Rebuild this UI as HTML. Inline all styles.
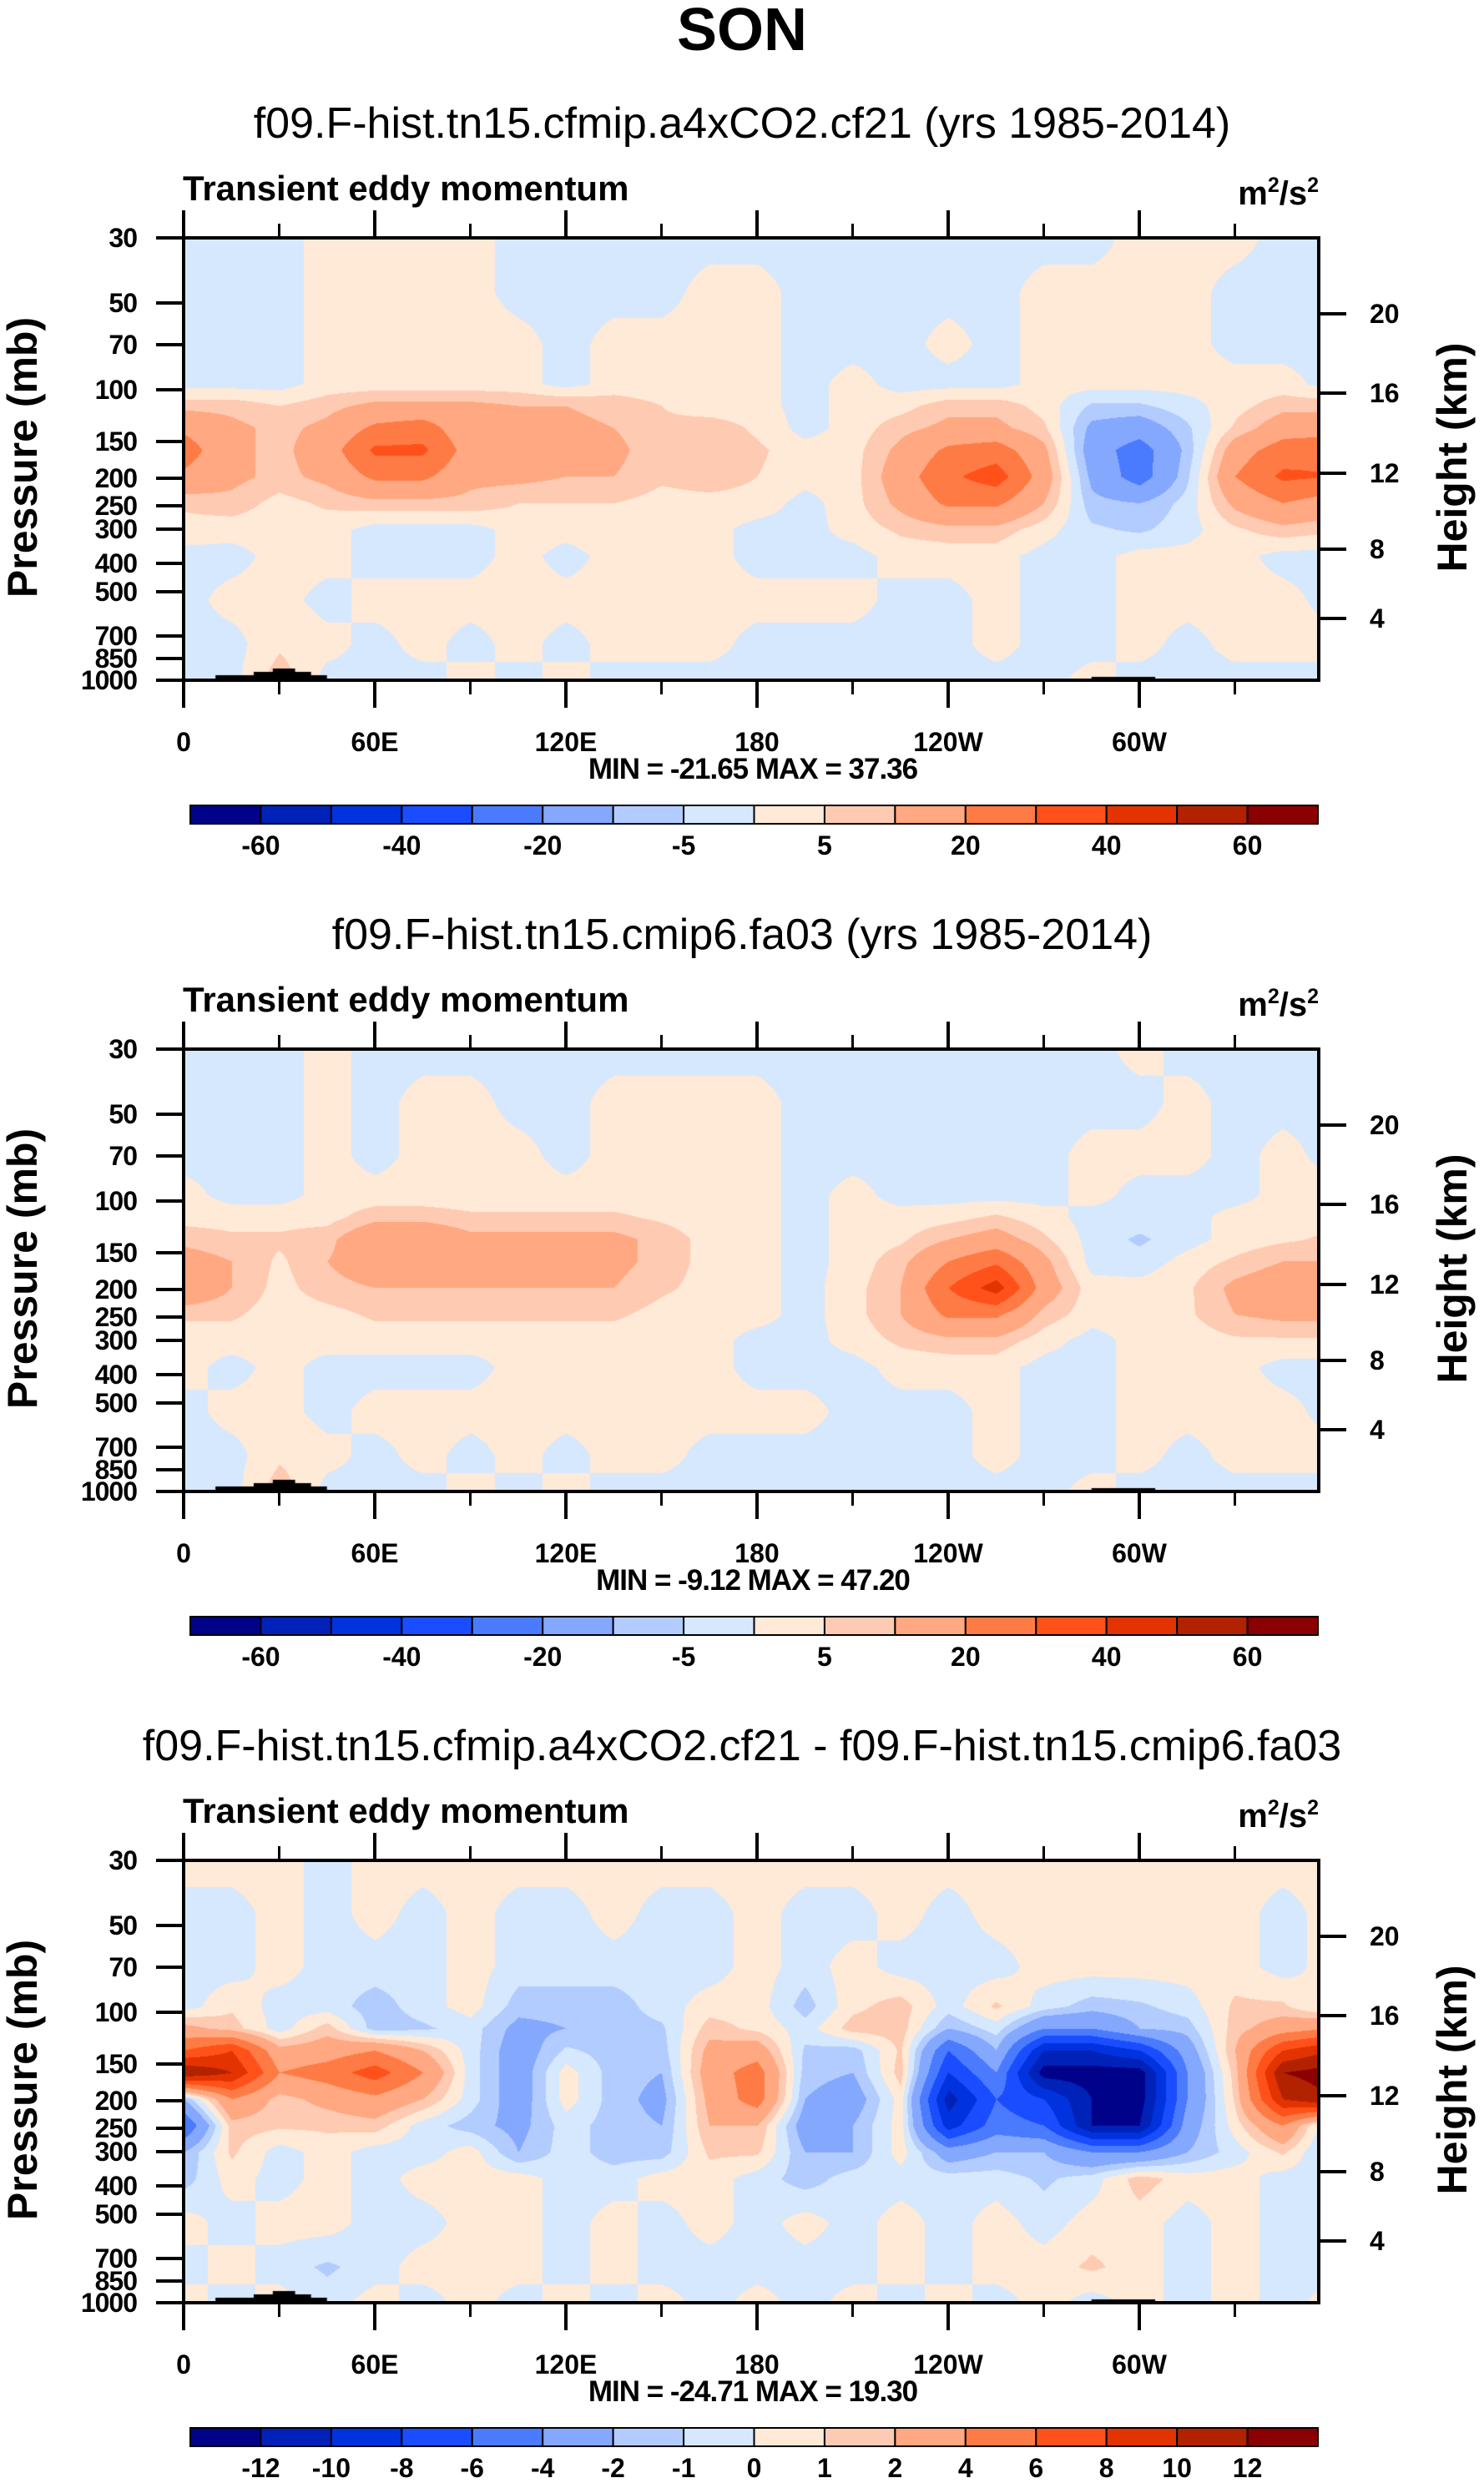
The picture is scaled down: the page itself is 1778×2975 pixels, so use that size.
<!DOCTYPE html>
<html><head><meta charset="utf-8">
<style>
html,body{margin:0;padding:0;background:#fff;}
#root{position:relative;width:1778px;height:2975px;overflow:hidden;background:#fff;font-family:"Liberation Sans",sans-serif;}
canvas{position:absolute;}
svg{position:absolute;left:0;top:0;}
</style></head>
<body>
<div id="root">
<canvas id="c0" width="1360" height="530" style="left:220px;top:285px"></canvas>
<canvas id="c1" width="1360" height="530" style="left:220px;top:1257px"></canvas>
<canvas id="c2" width="1360" height="530" style="left:220px;top:2229px"></canvas>
<svg id="ov" width="1778" height="2975"></svg>
</div>
<script>
// ---- data ----
const lonCols = [0,15,30,45,60,75,90,105,120,135,150,165,180,195,210,225,240,255,270,285,300,315,330,345,360];
const rowFrac = [0,0.12,0.24,0.33,0.38,0.43,0.48,0.54,0.60,0.66,0.72,0.82,0.92,1.0];
const field1 = [
[-2,-2,-2,2,2,2,2,-2,-2,-2,-2,-2,-2,-2,-2,-2,-2,-2,-2,-2,2,2,2,-2,-2],
[-2,-2,-2,2,2,2,2,-2,-2,-2,-2,2,2,-2,-2,-2,-2,-2,2,2,2,2,-2,-2,-2],
[-2,-2,-2,2,2,2,2,2,-2,2,2,2,2,-2,-2,-2,2,-2,2,2,2,2,-2,-2,-2],
[-2,-2,-2,2,2,2,2,2,-2,2,2,2,2,-2,2,-2,-2,-2,2,2,2,2,2,2,-2],
[8,8,5,8,12,12,12,10,10,8,5,2,2,-2,2,3,8,8,3,-6,-6,-2,3,8,8],
[18,12,8,12,22,25,12,12,12,10,6,8,4,-2,2,8,12,12,6,-12,-15,-6,6,15,15],
[25,12,8,15,32,32,15,12,12,12,6,8,6,2,3,12,22,25,12,-15,-25,-8,15,25,28],
[18,12,8,12,22,22,12,12,10,10,6,8,5,2,3,15,28,35,15,-12,-25,-6,20,32,30],
[6,8,3,6,8,8,8,5,5,5,3,3,3,-2,3,12,22,22,10,-8,-10,-3,12,20,15],
[3,2,2,2,-2,-2,-2,2,2,3,2,2,-2,-2,2,6,8,8,2,-4,-6,-2,4,8,6],
[-2,-2,2,2,-2,-2,-2,2,-2,2,2,2,-2,-2,-2,2,2,2,-2,-2,2,2,2,-2,-2],
[-2,2,2,-2,2,2,2,2,2,2,2,2,2,2,2,-2,-2,2,-2,-2,2,2,2,2,-2],
[-2,-2,4,2,-2,2,-2,2,-2,2,2,2,-2,-2,-2,-2,-2,2,-2,-2,2,-2,2,2,2],
[-2,-2,8,-2,-2,-2,2,-2,2,-2,-2,-2,-2,-2,-2,-2,-2,-2,-2,2,-2,-2,-2,-2,-2]];
const field2 = [
[-2,-2,-2,2,-2,-2,-2,-2,-2,-2,-2,-2,-2,-2,-2,-2,-2,-2,-2,-2,2,-2,-2,-2,-2],
[-2,-2,-2,2,-2,2,2,-2,-2,2,2,2,2,-2,-2,-2,-2,-2,-2,-2,-2,2,-2,-2,-2],
[-2,-2,-2,2,-2,2,2,2,-2,2,2,2,2,-2,-2,-2,-2,-2,-2,2,2,2,-2,2,-2],
[2,-2,-2,2,2,2,2,2,2,2,2,2,2,-2,2,-2,-2,-2,-2,2,-2,-2,-2,2,2],
[3,3,3,3,8,8,6,6,6,6,4,2,2,-2,2,2,3,6,2,-2,-2,-2,2,3,3],
[8,6,6,8,18,18,12,12,12,12,8,3,2,-2,2,4,10,14,6,-2,-6,-2,2,4,6],
[14,10,4,10,15,15,10,12,12,12,8,3,2,-2,2,8,20,28,12,-2,-3,2,6,10,10],
[18,10,3,8,10,10,10,10,10,10,6,3,2,-2,3,10,30,45,15,2,2,4,12,16,18],
[6,6,2,3,6,6,6,6,6,6,3,2,2,-2,3,10,22,22,8,2,2,4,10,12,12],
[2,2,2,2,2,2,2,2,2,2,2,2,-2,-2,2,6,8,8,2,-2,2,2,4,4,4],
[2,-2,2,-2,-2,-2,-2,2,2,2,2,2,-2,-2,-2,2,2,2,-2,-2,2,2,2,-2,-2],
[-2,2,2,-2,2,2,2,2,2,2,2,2,2,2,-2,-2,-2,2,-2,-2,2,2,2,2,-2],
[-2,-2,4,2,-2,2,-2,2,-2,2,2,-2,-2,-2,-2,-2,-2,2,-2,-2,2,-2,2,2,2],
[-2,-2,8,-2,-2,-2,2,-2,2,-2,-2,-2,-2,-2,-2,-2,-2,-2,-2,2,-2,-2,-2,-2,-2]];
const field3 = [
[0.5,0.5,0.5,-0.5,0.5,0.5,0.5,0.5,0.5,0.5,0.5,0.5,0.5,0.5,0.5,0.5,0.5,0.5,0.5,0.5,0.5,0.5,0.5,0.5,0.5],
[-0.5,-0.5,0.5,-0.5,0.5,-0.5,0.5,-0.5,-0.5,0.5,-0.5,-0.5,0.5,-0.5,-0.5,0.5,-0.5,0.5,0.5,0.5,0.5,0.5,0.5,-0.5,0.5],
[-0.5,-0.5,0.5,-0.5,-0.5,-0.5,0.5,-0.5,-0.5,-0.5,-0.5,-0.5,0.5,-0.5,0.5,-0.5,-0.5,-0.5,0.5,0.5,0.5,0.5,0.5,-0.5,0.5],
[-0.5,0.8,-0.5,-0.5,-1.5,-0.5,0.5,-1.5,-1.5,-1.5,-0.5,0.5,0.5,-1.5,0.7,1.5,-0.5,1.2,-0.5,-1.5,-1.2,-0.5,1.2,1.2,-0.5],
[2.5,1.5,-0.5,1.5,-1.5,-1.2,-0.5,-2.5,-2,-1.5,-1.2,1.5,0.7,-0.5,1.5,1.5,-2,-0.5,-4,-4,-2,-1.5,1.5,3,4],
[6,8,2.5,3,4,2,-0.5,-3,-0.8,-1.5,-1.5,2.5,3,-1.2,-1.5,1.2,-6,-2,-10,-10,-8,-3,2,8,10],
[12,10,4,5,7,4,-0.5,-3,0.5,-1.5,-2,3,5,-1.5,-2,1.5,-8,-4,-13,-13,-13,-4,1.5,12,13],
[-2,4,1.5,2.5,3.5,2,-0.5,-3,0.5,-1.5,-2.5,2.5,5,-2,-3,0.5,-11,-6,-8,-12,-13,-4,1.2,10,12],
[-6,1.5,1.2,1.2,1.5,-0.5,-1.5,-2.5,-0.5,-1.5,-2,2,2,-3,-2,0.5,-9,-5,-6,-12,-12,-3,0.5,4,-1.5],
[-2,1.2,-0.5,0.5,-0.5,-0.5,0.5,-2,-0.5,-1.5,-1.5,1.2,1.2,-2,-2,0.5,-3,-2,-2,-4,-4,-2,-0.5,1.2,-1.5],
[-1.5,0.5,-0.5,0.5,-0.5,0.5,0.5,0.5,-0.5,-0.5,0.5,0.5,-0.5,-1.5,-0.5,-0.5,-0.5,-0.5,-1.2,-0.5,1.5,0.5,0.5,-0.5,-0.5],
[0.5,-0.5,0.5,0.5,-0.5,-0.5,0.5,0.5,-0.5,0.5,-0.5,0.5,-0.5,0.5,-0.5,0.5,-0.5,0.5,-0.5,0.5,0.5,-0.5,0.5,-0.5,-0.5],
[-0.5,0.5,-0.5,-1.2,-0.5,0.5,0.5,0.5,-0.5,0.5,-0.5,-0.5,-0.5,-0.5,-0.5,0.5,-0.5,0.5,0.5,1.2,0.5,-0.5,0.5,-0.5,-0.5],
[0.5,-0.5,0.5,-0.5,0.5,-0.5,0.5,-0.5,0.5,-0.5,0.5,-0.5,0.5,-0.5,0.5,-0.5,0.5,-0.5,0.5,-0.5,0.5,-0.5,0.5,-0.5,0.5]];
const levelsMain = [-60,-50,-40,-30,-20,-10,-5,0,5,10,20,30,40,50,60];
const levelsDiff = [-12,-10,-8,-6,-4,-2,-1,0,1,2,4,6,8,10,12];
const cbLabelsMain = ["-60","-40","-20","-5","5","20","40","60"];
const cbLabelsDiff = ["-12","-10","-8","-6","-4","-2","-1","0","1","2","4","6","8","10","12"];
const colors = ["#00038a","#0022b8","#0033dd","#1a4dff","#4a7bff","#85a8ff","#b3ccff","#d6e8fd","#ffe9d7","#ffcab2","#ffa882","#ff7b45","#ff5119","#e33300","#b32200","#8b0000"];
const lonTicks = [0,60,120,180,240,300];
const lonTickLabels = ["0","60E","120E","180","120W","60W"];
const presLabels = ["30","50","70","100","150","200","250","300","400","500","700","850","1000"];
const presOffsets = [0,78,128,182,244,288,321,349,390,424,477,504,530];
const hgtLabels = ["20","16","12","8","4"];
const hgtOffsets = [91,186,282,373,456];
const subtitles = ["f09.F-hist.tn15.cfmip.a4xCO2.cf21 (yrs 1985-2014)","f09.F-hist.tn15.cmip6.fa03 (yrs 1985-2014)","f09.F-hist.tn15.cfmip.a4xCO2.cf21 - f09.F-hist.tn15.cmip6.fa03"];
const minmax = ["MIN = -21.65  MAX =  37.36","MIN = -9.12  MAX =  47.20","MIN = -24.71  MAX =  19.30"];

// ---- geometry ----
const PL=220, PW=1360, PH=530, PT=[285,1257,2229];
const degPx = 1374/360;
const xOf = lon => PL + lon*degPx;
const rgb = h => [parseInt(h.slice(1,3),16),parseInt(h.slice(3,5),16),parseInt(h.slice(5,7),16)];
const rgbCols = colors.map(rgb);

function sample(f, lon, fr){
  let ci = Math.min(lonCols.length-2, Math.floor(lon/15)); let tx = (lon - lonCols[ci])/15;
  let ri = 0; while(ri<rowFrac.length-2 && fr>rowFrac[ri+1]) ri++;
  let ty = (fr-rowFrac[ri])/(rowFrac[ri+1]-rowFrac[ri]);
  const a=f[ri][ci], b=f[ri][ci+1], c=f[ri+1][ci], d=f[ri+1][ci+1];
  return (a*(1-tx)+b*tx)*(1-ty)+(c*(1-tx)+d*tx)*ty;
}
function drawField(id, f, lev){
  const cv=document.getElementById(id), ctx=cv.getContext('2d');
  const img=ctx.createImageData(PW,PH);
  for(let y=0;y<PH;y++){ const fr=y/(PH-1);
    for(let x=0;x<PW;x++){ const v=sample(f,x/degPx,fr);
      let k=0; while(k<lev.length && v>=lev[k]) k++;
      const c=rgbCols[k], o=(y*PW+x)*4; img.data[o]=c[0];img.data[o+1]=c[1];img.data[o+2]=c[2];img.data[o+3]=255; } }
  ctx.putImageData(img,0,0);
  ctx.fillStyle='#000';
  ctx.fillRect(xOf(10)-PL,PH-6,xOf(45)-xOf(10),6);
  ctx.fillRect(xOf(22)-PL,PH-10,xOf(40)-xOf(22),10);
  ctx.fillRect(xOf(28)-PL,PH-14,xOf(35)-xOf(28),14);
  ctx.fillRect(xOf(285)-PL,PH-4,xOf(305)-xOf(285),4);
}
drawField('c0',field1,levelsMain);
drawField('c1',field2,levelsMain);
drawField('c2',field3,levelsDiff);

// ---- overlay ----
const NS='http://www.w3.org/2000/svg', ov=document.getElementById('ov');
function mk(tag, at, txt){ const e=document.createElementNS(NS,tag); for(const k in at) e.setAttribute(k,at[k]); if(txt!==undefined) e.textContent=txt; ov.appendChild(e); return e; }
let t=mk('text',{x:889,y:60,'text-anchor':'middle','font-size':72,'font-weight':'bold'},'SON');


for(let p=0;p<3;p++){
  const T=PT[p], dy=p===0?0:(p===1?972:1944);
  t=mk('text',{x:889,y:165+dy,'text-anchor':'middle','font-size':52},subtitles[p]);
  
  
  t=mk('text',{x:219,y:240+dy,'font-size':42,'font-weight':'bold'},'Transient eddy momentum');
  
  
  t=mk('text',{x:1580,y:245+dy,'text-anchor':'end','font-size':40,'font-weight':'bold'});
  t.innerHTML='m<tspan font-size="25" dy="-15">2</tspan><tspan dy="15">/s</tspan><tspan font-size="25" dy="-15">2</tspan>';
  
  
  let r=mk('rect',{x:PL,y:T,width:PW,height:PH,fill:'none',stroke:'#000','stroke-width':4});
  
  
  for(let lon=0;lon<=330;lon+=30){
    const maj=lon%60===0, L=maj?33:17, x=xOf(lon);
    mk('line',{x1:x,y1:T,x2:x,y2:T-L,stroke:'#000','stroke-width':maj?4:3});
    mk('line',{x1:x,y1:T+PH,x2:x,y2:T+PH+L,stroke:'#000','stroke-width':maj?4:3});
  }
  lonTicks.forEach((lon,i)=>{
    t=mk('text',{x:xOf(lon),y:T+PH+85,'text-anchor':'middle','font-size':32,'font-weight':'bold'},lonTickLabels[i]);
    
    
  });
  presLabels.forEach((lb,i)=>{
    const y=T+presOffsets[i];
    mk('line',{x1:PL,y1:y,x2:PL-33,y2:y,stroke:'#000','stroke-width':4});
    t=mk('text',{x:164,y:y+11,'text-anchor':'end','font-size':32,'font-weight':'bold','letter-spacing':-1},lb);
    
    
  });
  hgtLabels.forEach((lb,i)=>{
    const y=T+hgtOffsets[i];
    mk('line',{x1:PL+PW,y1:y,x2:PL+PW+33,y2:y,stroke:'#000','stroke-width':4});
    t=mk('text',{x:1641,y:y+11,'font-size':32,'font-weight':'bold'},lb);
    
    
  });
  t=mk('text',{x:0,y:0,'text-anchor':'middle','font-size':50,'font-weight':'bold',transform:`translate(44,${T+263}) rotate(-90)`},'Pressure (mb)');
  
  
  t=mk('text',{x:0,y:0,'text-anchor':'middle','font-size':50,'font-weight':'bold',transform:`translate(1757,${T+263}) rotate(-90)`},'Height (km)');
  
  
  t=mk('text',{x:902,y:T+648,'text-anchor':'middle','font-size':35,'font-weight':'bold','letter-spacing':-1,'xml:space':'preserve'},minmax[p]);
  
  
  const cbx=228, cbw=1351/16, cby=T+680, cbh=22;
  colors.forEach((c,i)=>{
    const b=mk('rect',{x:cbx+i*cbw,y:cby,width:cbw,height:cbh,fill:c,stroke:'#000','stroke-width':2});
    
    
  });
  const labs = p===2?cbLabelsDiff:cbLabelsMain;
  labs.forEach((lb,i)=>{
    const k = p===2? i+1 : 2*i+1;
    t=mk('text',{x:cbx+k*cbw,y:cby+59,'text-anchor':'middle','font-size':32,'font-weight':'bold'},lb);
    
    
  });
}
</script>
</body></html>
